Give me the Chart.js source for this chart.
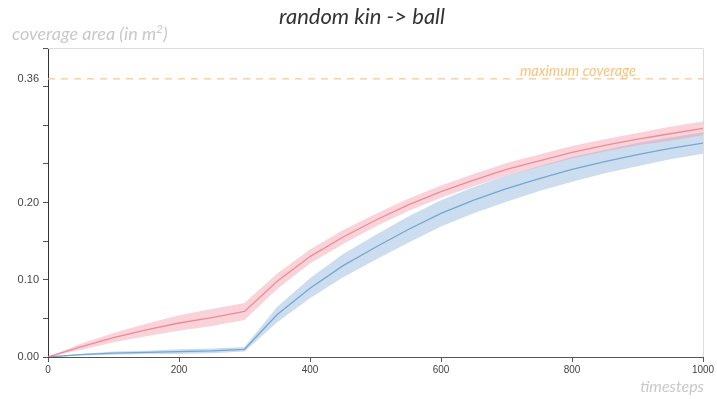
<!DOCTYPE html>
<html>
<head>
<meta charset="utf-8">
<script src="https://cdn.jsdelivr.net/npm/chart.js"></script>
<style>
  html, body { margin: 0; padding: 0; background: #fff; }
  #wrap { width: 717px; height: 399px; }
</style>
</head>
<body>
<div id="wrap"><canvas id="coverageChart"></canvas></div>
<script>

// timesteps sampled every 50
const timesteps = [0, 50, 100, 150, 200, 250, 300, 350, 400, 450, 500, 550, 600, 650, 700, 750, 800, 850, 900, 950, 1000];

// red series (mean + band half width)
const redMean   = [0, 0.013, 0.025, 0.035, 0.044, 0.051, 0.059, 0.098, 0.130, 0.155, 0.177, 0.197, 0.214, 0.229, 0.243, 0.254, 0.265, 0.274, 0.282, 0.289, 0.296];
const redSpread = [0, 0.004, 0.006, 0.008, 0.010, 0.011, 0.011, 0.010, 0.009, 0.009, 0.008, 0.008, 0.008, 0.008, 0.008, 0.008, 0.008, 0.008, 0.008, 0.009, 0.009];

// blue series
const blueMean   = [0, 0.003, 0.005, 0.006, 0.007, 0.008, 0.010, 0.055, 0.089, 0.118, 0.142, 0.165, 0.186, 0.203, 0.218, 0.231, 0.243, 0.253, 0.262, 0.270, 0.277];
const blueSpread = [0, 0.001, 0.002, 0.002, 0.003, 0.003, 0.003, 0.010, 0.013, 0.015, 0.016, 0.017, 0.017, 0.017, 0.017, 0.016, 0.016, 0.015, 0.015, 0.014, 0.014];

const maxCoverage = 0.36;
const xTicks = [0, 200, 400, 600, 800, 1000];
const yTicks = [0, 0.05, 0.10, 0.15, 0.20, 0.25, 0.30, 0.35, 0.40];
const yLabelled = [0, 0.10, 0.20, 0.36];

const pts = (arr, off, sign) => arr.map((v, i) => ({ x: timesteps[i], y: v + (off ? sign * off[i] : 0) }));

// extra texts and frame lines
const decorPlugin = {
  id: 'decor',
  afterDraw(chart) {
    const ctx = chart.ctx;
    const a = chart.chartArea;
    const xs = chart.scales.x;
    ctx.save();
    // light top / right frame
    ctx.strokeStyle = '#dcdcdc';
    ctx.lineWidth = 1;
    ctx.beginPath();
    ctx.moveTo(a.left, a.top + 0.5);
    ctx.lineTo(a.right + 0.5, a.top + 0.5);
    ctx.lineTo(a.right + 0.5, a.bottom);
    ctx.stroke();

    ctx.textBaseline = 'middle';
    ctx.fillStyle = '#333';
    ctx.font = 'italic 22px Lato';
    ctx.textAlign = 'center';
    ctx.fillText('random kin -> ball', 362, 17);

    ctx.fillStyle = '#c8c8c8';
    ctx.font = 'italic 18px Lato';
    ctx.textAlign = 'left';
    ctx.fillText('coverage area (in m', 12, 34);
    let w = ctx.measureText('coverage area (in m').width;
    ctx.font = 'italic 12px Lato';
    ctx.fillText('2', 12 + w, 29);
    let w2 = ctx.measureText('2').width;
    ctx.font = 'italic 18px Lato';
    ctx.fillText(')', 12 + w + w2, 34);

    ctx.font = 'italic 16px Lato';
    ctx.textAlign = 'right';
    ctx.fillText('timesteps', a.right + 1, 387);

    ctx.fillStyle = '#f8c37b';
    ctx.font = 'italic 14.5px Lato';
    ctx.textAlign = 'center';
    ctx.fillText('maximum coverage', xs.getPixelForValue(809), 71);
    ctx.restore();
  }
};

document.addEventListener('DOMContentLoaded', function(){

  new Chart(document.getElementById('coverageChart'), {
    type: 'line',
    data: {
      datasets: [
        { data: pts(redMean, redSpread, 1), borderWidth: 0, pointRadius: 0, fill: '+1', backgroundColor: 'rgba(240,150,165,0.42)' },
        { data: pts(redMean, redSpread, -1), borderWidth: 0, pointRadius: 0, fill: false },
        { data: pts(blueMean, blueSpread, 1), borderWidth: 0, pointRadius: 0, fill: '+1', backgroundColor: 'rgba(130,175,215,0.42)' },
        { data: pts(blueMean, blueSpread, -1), borderWidth: 0, pointRadius: 0, fill: false },
        { data: pts(redMean), borderColor: '#e8838e', borderWidth: 1.3, pointRadius: 0, fill: false },
        { data: pts(blueMean), borderColor: '#6aa2cf', borderWidth: 1.3, pointRadius: 0, fill: false },
        { data: [{ x: 0, y: maxCoverage }, { x: 1000, y: maxCoverage }], borderColor: '#fbc783', borderWidth: 1.3, borderDash: [7, 6], pointRadius: 0, fill: false }
      ]
    },
    options: {
      responsive: true,
      maintainAspectRatio: false,
      animation: false,
      layout: { padding: { top: 48, right: 14, bottom: 0, left: 0 } },
      plugins: { legend: { display: false }, tooltip: { enabled: false } },
      scales: {
        x: {
          type: 'linear',
          min: 0,
          max: 1000,
          afterFit: s => { s.height = 42; },
          afterBuildTicks: s => { s.ticks = xTicks.map(v => ({ value: v })); },
          grid: { drawOnChartArea: false, tickLength: 5, tickColor: '#555' },
          border: { color: '#555', width: 1 },
          ticks: { color: '#444', font: { family: 'Liberation Sans', size: 10 }, padding: 2, maxRotation: 0, callback: v => String(v) }
        },
        y: {
          min: 0,
          max: 0.40,
          afterFit: s => { s.width = 48; },
          afterBuildTicks: s => { s.ticks = yTicks.concat([maxCoverage]).map(v => ({ value: v })); },
          grid: {
            drawOnChartArea: false,
            tickLength: 5,
            tickColor: c => (c.tick && c.tick.value === maxCoverage) ? 'rgba(0,0,0,0)' : '#555'
          },
          border: { color: '#333', width: 1 },
          ticks: {
            color: '#444',
            font: { family: 'Liberation Sans', size: 11 },
            padding: 4,
            callback: v => yLabelled.some(t => Math.abs(t - v) < 1e-9) ? v.toFixed(2) : ''
          }
        }
      }
    },
    plugins: [decorPlugin]
  });

});
</script>
</body>
</html>
